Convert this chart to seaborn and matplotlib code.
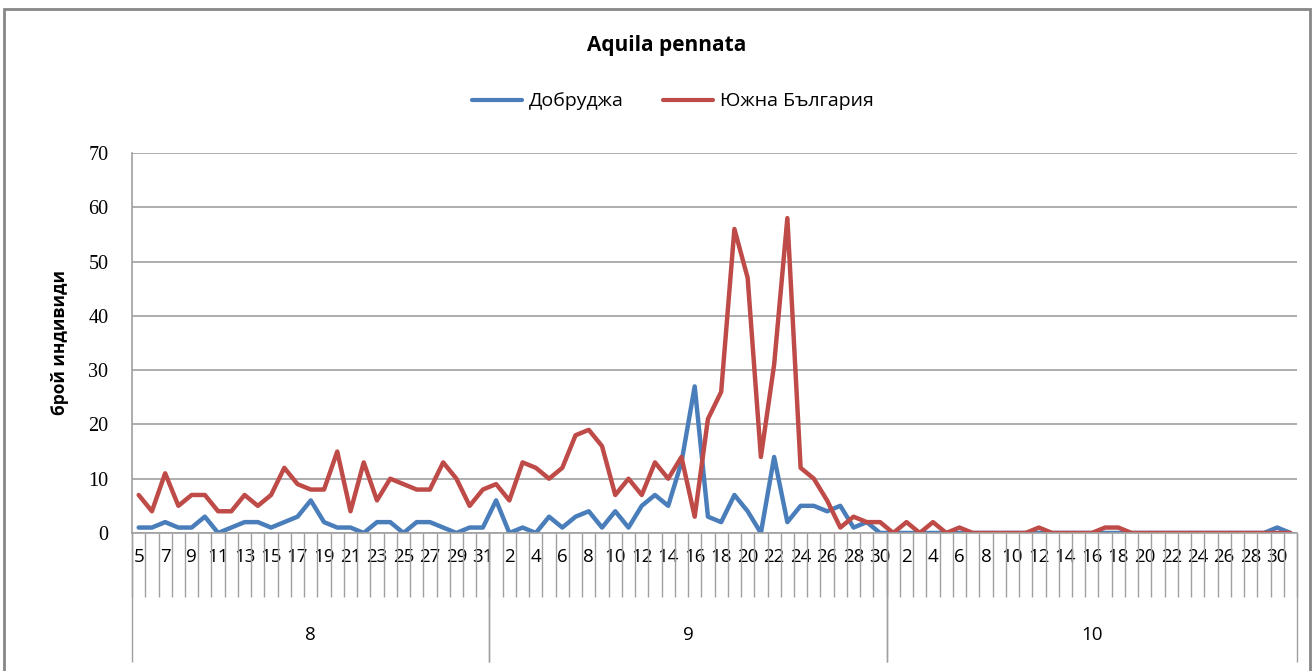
import pandas as pd
import matplotlib.pyplot as plt
import seaborn as sns
from matplotlib.patches import Rectangle

# days shown for each month (Aug 5 - Oct 31)
months = ['8', '9', '10']
aug_days = list(range(5, 32))
sep_days = list(range(1, 31))
oct_days = list(range(1, 32))

# number of individuals per day
dobrudzha = [1, 1, 2, 1, 1, 3, 0, 1, 2, 2, 1, 2, 3, 6, 2, 1, 1, 0, 2, 2, 0, 2, 2, 1, 0, 1, 1,
             6, 0, 1, 0, 3, 1, 3, 4, 1, 4, 1, 5, 7, 5, 13, 27, 3, 2, 7, 4, 0, 14, 2, 5, 5, 4, 5, 1, 2, 0,
             0, 0, 0, 0, 0, 0, 0, 0, 0, 0, 0, 0, 0, 0, 0, 0, 0, 0, 0, 0, 0, 0, 0, 0, 0, 0, 0, 0, 0, 1, 0]
south_bg = [7, 4, 11, 5, 7, 7, 4, 4, 7, 5, 7, 12, 9, 8, 8, 15, 4, 13, 6, 10, 9, 8, 8, 13, 10, 5, 8,
            9, 6, 13, 12, 10, 12, 18, 19, 16, 7, 10, 7, 13, 10, 14, 3, 21, 26, 56, 47, 14, 31, 58, 12, 10, 6, 1, 3, 2, 2,
            0, 2, 0, 2, 0, 1, 0, 0, 0, 0, 0, 1, 0, 0, 0, 0, 1, 1, 0, 0, 0, 0, 0, 0, 0, 0, 0, 0, 0, 0, 0]
series_names = ['Добруджа', 'Южна България']

BLUE = '#4a7ebb'
RED = '#be4b48'
GRID = '#a0a0a0'
TXT = 'Open Sans'


def build_frame():
    n = len(dobrudzha)
    df = pd.DataFrame({
        'pos': list(range(n)) * 2,
        'count': dobrudzha + south_bg,
        'region': [series_names[0]] * n + [series_names[1]] * n,
    })
    return df


def draw(df):
    sns.set_style('white')
    plt.rcParams['font.family'] = [TXT, 'DejaVu Sans']
    plt.rcParams['text.color'] = 'black'
    plt.rcParams['axes.labelcolor'] = 'black'
    fig = plt.figure(figsize=(13.14, 6.71), dpi=100)
    ax = fig.add_axes([0.1005, 0.2057, 0.8866, 0.5663])

    sns.lineplot(data=df, x='pos', y='count', hue='region', palette=[BLUE, RED],
                 linewidth=3.2, ax=ax, legend=False)

    n = len(dobrudzha)
    ax.set_xlim(-0.5, n - 0.5)
    ax.set_ylim(0, 70)
    ax.set_yticks(range(0, 71, 10))
    ax.yaxis.grid(True, color=GRID, linewidth=1.2)
    ax.set_axisbelow(True)
    for s in ['top', 'right']:
        ax.spines[s].set_visible(False)
    for s in ['left', 'bottom']:
        ax.spines[s].set_color(GRID)
        ax.spines[s].set_linewidth(1.2)
    ax.tick_params(axis='y', length=6, width=1.2, color=GRID, pad=11, labelcolor='black',
                   labelsize=14.5, labelfontfamily='Liberation Serif')

    # day labels: every other day
    days = aug_days + sep_days + oct_days
    lab_pos, lab_txt = [], []
    for i, d in enumerate(days):
        first = aug_days[0] if i < len(aug_days) else 2
        if (d - first) % 2 == 0:
            lab_pos.append(i)
            lab_txt.append(str(d))
    ax.set_xticks(lab_pos)
    ax.set_xticklabels(lab_txt)
    ax.tick_params(axis='x', length=0, pad=11, labelsize=13.5, labelcolor='black')
    ax.set_xlabel('')
    ax.set_ylabel('брой индивиди', fontsize=12.5, fontweight='bold', labelpad=14)

    # category separators (multi-level axis)
    trans = ax.get_xaxis_transform()
    bounds = [i - 0.5 for i in range(n + 1)]
    ax.vlines(bounds, -0.168, 0, transform=trans, color=GRID, lw=1, clip_on=False)
    sizes = [len(aug_days), len(sep_days), len(oct_days)]
    start = 0
    for m, k in zip(months, sizes):
        ax.vlines([start - 0.5, start + k - 0.5], -0.34, 0, transform=trans,
                  color=GRID, lw=1, clip_on=False)
        ax.text(start + (k - 1) / 2, -0.268, m, transform=trans, ha='center',
                va='center', fontsize=13.5)
        start += k

    fig.text(0.507, 0.932, 'Aquila pennata', ha='center', va='center',
             fontsize=15, fontweight='bold')
    handles = [plt.Line2D([], [], color=BLUE, lw=3), plt.Line2D([], [], color=RED, lw=3)]
    fig.legend(handles, series_names, loc='center', bbox_to_anchor=(0.512, 0.849), ncol=2,
               frameon=False, fontsize=14, handlelength=2.6, handletextpad=0.35,
               columnspacing=2.0)

    fig.add_artist(Rectangle((0.003, -0.01), 0.994, 0.997, transform=fig.transFigure,
                             fill=False, edgecolor='#878787', lw=2))
    fig.savefig('out.png', dpi=100)


df = build_frame()
draw(df)
